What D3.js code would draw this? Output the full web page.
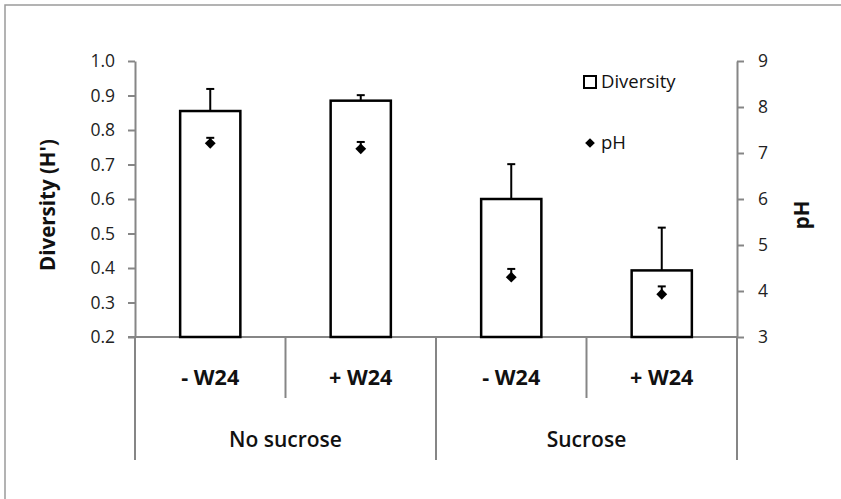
<!DOCTYPE html>
<html>
<head>
<meta charset="utf-8">
<script src="https://cdn.jsdelivr.net/npm/d3@7"></script>
<style>
  html, body { margin: 0; padding: 0; background: #fff; }
  svg { display: block; font-family: "Open Sans", "Liberation Sans", sans-serif; }
</style>
</head>
<body>
<svg id="chart" width="841" height="499"></svg>
<script>
// Treatments (inner categories) and their grouping (outer categories)
const subgroups = ["- W24", "+ W24", "- W24", "+ W24"];
const groups = ["No sucrose", "Sucrose"];
const groupOf = [0, 0, 1, 1];

// Shannon diversity (H') with standard error
const diversity = [0.855, 0.885, 0.600, 0.393];
const diversityErr = [0.064, 0.016, 0.101, 0.124];

// pH with standard error
const ph = [7.21, 7.09, 4.30, 3.93];
const phErr = [0.12, 0.15, 0.18, 0.17];

// Axis ticks
const leftTicks = [0.2, 0.3, 0.4, 0.5, 0.6, 0.7, 0.8, 0.9, 1.0];
const rightTicks = [3, 4, 5, 6, 7, 8, 9];

const svg = d3.select("#chart");
const axisColor = "#868686";

const plot = { left: 135, right: 737, top: 61, bottom: 337 };

const x = d3.scaleBand()
  .domain(d3.range(subgroups.length))
  .range([plot.left, plot.right])
  .paddingInner(0).paddingOuter(0);

const yL = d3.scaleLinear().domain([0.2, 1.0]).range([plot.bottom, plot.top]);
const yR = d3.scaleLinear().domain([3, 9]).range([plot.bottom, plot.top]);

// Outer chart frame
svg.append("rect")
  .attr("x", 5).attr("y", 5)
  .attr("width", 850).attr("height", 510)
  .attr("fill", "none")
  .attr("stroke", "#9a9a9a")
  .attr("stroke-width", 1.5);

// Left axis (diversity)
const gL = svg.append("g")
  .attr("transform", `translate(${plot.left},0)`)
  .call(d3.axisLeft(yL).tickValues(leftTicks).tickFormat(d3.format(".1f"))
    .tickSize(7).tickSizeOuter(0).tickPadding(13));

// Right axis (pH)
const gR = svg.append("g")
  .attr("transform", `translate(${plot.right},0)`)
  .call(d3.axisRight(yR).tickValues(rightTicks).tickFormat(d3.format("d"))
    .tickSize(7).tickSizeOuter(0).tickPadding(14));

[gL, gR].forEach(g => {
  g.select(".domain").attr("stroke", axisColor).attr("stroke-width", 2);
  g.selectAll(".tick line").attr("stroke", axisColor).attr("stroke-width", 2);
  g.selectAll(".tick text")
    .attr("fill", "#222")
    .style("font-size", "17.5px")
    .style("font-family", "'Open Sans', sans-serif");
});

// Category axis line
svg.append("line")
  .attr("x1", plot.left - 7).attr("x2", plot.right)
  .attr("y1", plot.bottom).attr("y2", plot.bottom)
  .attr("stroke", axisColor).attr("stroke-width", 2);

// Category dividers: short between treatments, long between groups
const dividers = d3.range(subgroups.length + 1).map(i => {
  const xv = i < subgroups.length ? x(i) : x(subgroups.length - 1) + x.bandwidth();
  const outer = i === 0 || i === subgroups.length || groupOf[i] !== groupOf[i - 1];
  return { xv, outer };
});
svg.append("g").selectAll("line")
  .data(dividers)
  .join("line")
  .attr("x1", d => d.xv).attr("x2", d => d.xv)
  .attr("y1", plot.bottom)
  .attr("y2", d => d.outer ? 460 : 398)
  .attr("stroke", axisColor).attr("stroke-width", 2);

// Treatment labels
svg.append("g").selectAll("text")
  .data(subgroups)
  .join("text")
  .attr("x", (d, i) => x(i) + x.bandwidth() / 2)
  .attr("y", 385)
  .attr("text-anchor", "middle")
  .style("font-size", "21.5px")
  .style("font-weight", "bold")
  .attr("fill", "#111")
  .text(d => d);

// Group labels
svg.append("g").selectAll("text")
  .data(groups)
  .join("text")
  .attr("x", (d, gi) => {
    const idx = groupOf.map((g, i) => g === gi ? i : -1).filter(i => i >= 0);
    const x0 = x(idx[0]);
    const x1 = x(idx[idx.length - 1]) + x.bandwidth();
    return (x0 + x1) / 2;
  })
  .attr("y", 447)
  .attr("text-anchor", "middle")
  .style("font-size", "21px")
  .style("font-weight", "600")
  .attr("fill", "#111")
  .text(d => d);

// Bars
const barW = x.bandwidth() * 0.4;
svg.append("g").selectAll("rect")
  .data(diversity)
  .join("rect")
  .attr("x", (d, i) => x(i) + (x.bandwidth() - barW) / 2)
  .attr("y", d => yL(d))
  .attr("width", barW)
  .attr("height", d => yL(0.2) - yL(d))
  .attr("fill", "#fff")
  .attr("stroke", "#000")
  .attr("stroke-width", 2.5);

// Diversity error bars (upper half)
const capW = 8;
const divErr = svg.append("g").attr("stroke", "#000").attr("stroke-width", 2);
diversity.forEach((v, i) => {
  const cx = x(i) + x.bandwidth() / 2;
  divErr.append("line").attr("x1", cx).attr("x2", cx)
    .attr("y1", yL(v)).attr("y2", yL(v + diversityErr[i]));
  divErr.append("line").attr("x1", cx - capW / 2).attr("x2", cx + capW / 2)
    .attr("y1", yL(v + diversityErr[i])).attr("y2", yL(v + diversityErr[i]));
});

// pH error bars (upper half) and markers
const phErrG = svg.append("g").attr("stroke", "#000").attr("stroke-width", 2);
ph.forEach((v, i) => {
  const cx = x(i) + x.bandwidth() / 2;
  phErrG.append("line").attr("x1", cx).attr("x2", cx)
    .attr("y1", yR(v)).attr("y2", yR(v + phErr[i]));
  phErrG.append("line").attr("x1", cx - capW / 2).attr("x2", cx + capW / 2)
    .attr("y1", yR(v + phErr[i])).attr("y2", yR(v + phErr[i]));
});
const diamond = d3.symbol().type(d3.symbolDiamond2).size(75);
svg.append("g").selectAll("path")
  .data(ph)
  .join("path")
  .attr("transform", (d, i) => `translate(${x(i) + x.bandwidth() / 2},${yR(d)})`)
  .attr("d", diamond)
  .attr("fill", "#000");

// Axis titles
svg.append("text")
  .attr("transform", "translate(47,205) rotate(-90)")
  .attr("text-anchor", "middle")
  .attr("dominant-baseline", "central")
  .style("font-size", "20.5px")
  .style("font-weight", "bold")
  .attr("fill", "#111")
  .text("Diversity (H')");

svg.append("text")
  .attr("transform", "translate(801,215) rotate(-90)")
  .attr("text-anchor", "middle")
  .attr("dominant-baseline", "central")
  .style("font-size", "20.5px")
  .style("font-weight", "bold")
  .attr("fill", "#111")
  .text("pH");

// Legend
const legend = svg.append("g");
legend.append("rect")
  .attr("x", 584).attr("y", 76).attr("width", 12).attr("height", 12)
  .attr("fill", "#fff").attr("stroke", "#000").attr("stroke-width", 2);
legend.append("text")
  .attr("x", 601).attr("y", 88)
  .style("font-size", "18.5px").attr("fill", "#111")
  .text("Diversity");
legend.append("path")
  .attr("transform", "translate(590,143)")
  .attr("d", d3.symbol().type(d3.symbolDiamond2).size(60))
  .attr("fill", "#000");
legend.append("text")
  .attr("x", 601).attr("y", 149)
  .style("font-size", "18.5px").attr("fill", "#111")
  .text("pH");
</script>
</body>
</html>
